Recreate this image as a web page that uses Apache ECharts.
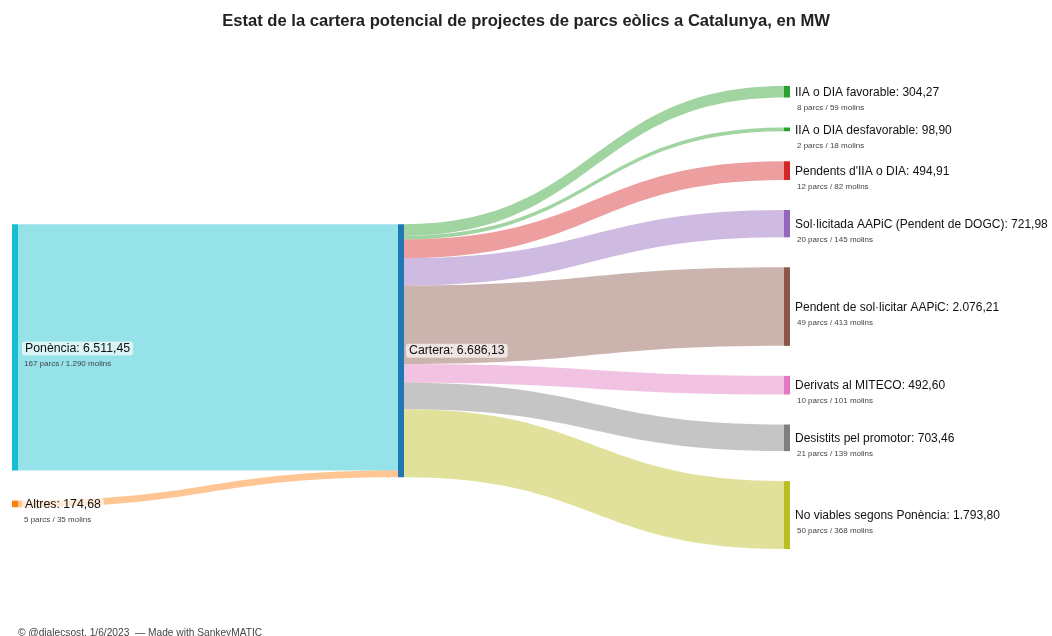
<!DOCTYPE html>
<html>
<head>
<meta charset="utf-8">
<script src="https://cdn.jsdelivr.net/npm/echarts@6/dist/echarts.min.js"></script>
<style>
  html, body { margin: 0; padding: 0; background: #fff; }
  #chart { width: 1052px; height: 636px; }
</style>
</head>
<body>
<div id="chart"></div>
<script>
// origen de la potència
var sources = ['Ponència', 'Altres'];
var sourceValues = [6511.45, 174.68];
var sourceParcs = [167, 5];
var sourceMolins = [1290, 35];
var sourceColors = ['#17becf', '#ff7f0e'];

var hub = 'Cartera';
var hubColor = '#1f77b4';

// estat dels projectes
var targets = [
    'IIA o DIA favorable',
    'IIA o DIA desfavorable',
    "Pendents d'IIA o DIA",
    'Sol·licitada AAPiC (Pendent de DOGC)',
    'Pendent de sol·licitar AAPiC',
    'Derivats al MITECO',
    'Desistits pel promotor',
    'No viables segons Ponència'
];
var targetValues = [304.27, 98.90, 494.91, 721.98, 2076.21, 492.60, 703.46, 1793.80];
var targetParcs = [8, 2, 12, 20, 49, 10, 21, 50];
var targetMolins = [59, 18, 82, 145, 413, 101, 139, 368];
var targetColors = ['#2ca02c', '#2ca02c', '#d62728', '#9467bd', '#8c564b', '#e377c2', '#7f7f7f', '#bcbd22'];

function fmt(v, dec) {
    var s = v.toFixed(dec);
    var parts = s.split('.');
    var ent = parts[0].replace(/\B(?=(\d{3})+(?!\d))/g, '.');
    return parts.length > 1 ? ent + ',' + parts[1] : ent;
}

var total = targetValues.reduce(function (a, b) { return a + b; }, 0);

// layout: the hub sits at the weighted centre of its targets
var TOP = 86, BOTTOM = 87, GAP = 30;
var H = 636 - TOP - BOTTOM;
var ky = (H - (targets.length - 1) * GAP) / total;
var acc = 0, wsum = 0;
targetValues.forEach(function (v) {
    var dy = v * ky;
    wsum += (acc + dy / 2) * v;
    acc += dy + GAP;
});
var hubY = wsum / total - total * ky / 2;

var rich = {
    n: { fontSize: 12, color: '#111', lineHeight: 18, fontFamily: 'Liberation Sans' },
    nb: {
        fontSize: 12.3, color: '#111', lineHeight: 18, fontFamily: 'Liberation Sans',
        backgroundColor: 'rgba(255,255,255,0.65)', borderRadius: 3, padding: [1, 3]
    },
    s: { fontSize: 8, color: '#444', lineHeight: 12, fontFamily: 'Liberation Sans', padding: [0, 0, 0, 2] }
};

var nodes = [];
var links = [];
sources.forEach(function (name, i) {
    var y = i === 0 ? hubY : hubY + sourceValues[0] * ky + GAP;
    nodes.push({
        name: name,
        localY: y / H,
        itemStyle: { color: sourceColors[i] },
        label: {
            offset: [0, 7],
            formatter: '{nb|' + name + ': ' + fmt(sourceValues[i], 2) + '}\n{s|' +
                sourceParcs[i] + ' parcs / ' + fmt(sourceMolins[i], 0) + ' molins}'
        }
    });
    links.push({
        source: name, target: hub, value: sourceValues[i],
        lineStyle: { color: sourceColors[i], opacity: 0.45 }
    });
});
nodes.push({
    name: hub,
    localY: hubY / H,
    itemStyle: { color: hubColor },
    label: { distance: 2, formatter: '{nb|' + hub + ': ' + fmt(total, 2) + '}' }
});
targets.forEach(function (name, i) {
    nodes.push({
        name: name,
        itemStyle: { color: targetColors[i] },
        label: {
            offset: [0, 7],
            distance: 5,
            formatter: '{n|' + name + ': ' + fmt(targetValues[i], 2) + '}\n{s|' +
                targetParcs[i] + ' parcs / ' + fmt(targetMolins[i], 0) + ' molins}'
        }
    });
    links.push({
        source: hub, target: name, value: targetValues[i],
        lineStyle: { color: targetColors[i], opacity: 0.45 }
    });
});

var myChart = echarts.init(document.getElementById('chart'));
var option = {
    backgroundColor: '#fff',
    animation: false,
    title: {
        text: 'Estat de la cartera potencial de projectes de parcs eòlics a Catalunya, en MW',
        left: 'center',
        top: 8,
        textStyle: { fontSize: 16.6, fontWeight: 'bold', color: '#222', fontFamily: 'Liberation Sans' }
    },
    graphic: [{
        type: 'text',
        left: 18,
        top: 628,
        style: {
            text: '© @dialecsost, 1/6/2023  — Made with SankeyMATIC',
            fontSize: 10.2,
            fill: '#444',
            fontFamily: 'Liberation Sans'
        }
    }],
    series: [{
        type: 'sankey',
        left: 12,
        right: 262,
        top: TOP,
        bottom: BOTTOM,
        nodeWidth: 6,
        nodeGap: GAP,
        layoutIterations: 0,
        draggable: false,
        emphasis: { disabled: true },
        label: {
            position: 'right',
            distance: 4,
            rich: rich
        },
        lineStyle: { curveness: 0.5 },
        data: nodes,
        links: links
    }]
};
myChart.setOption(option);
</script>
</body>
</html>
